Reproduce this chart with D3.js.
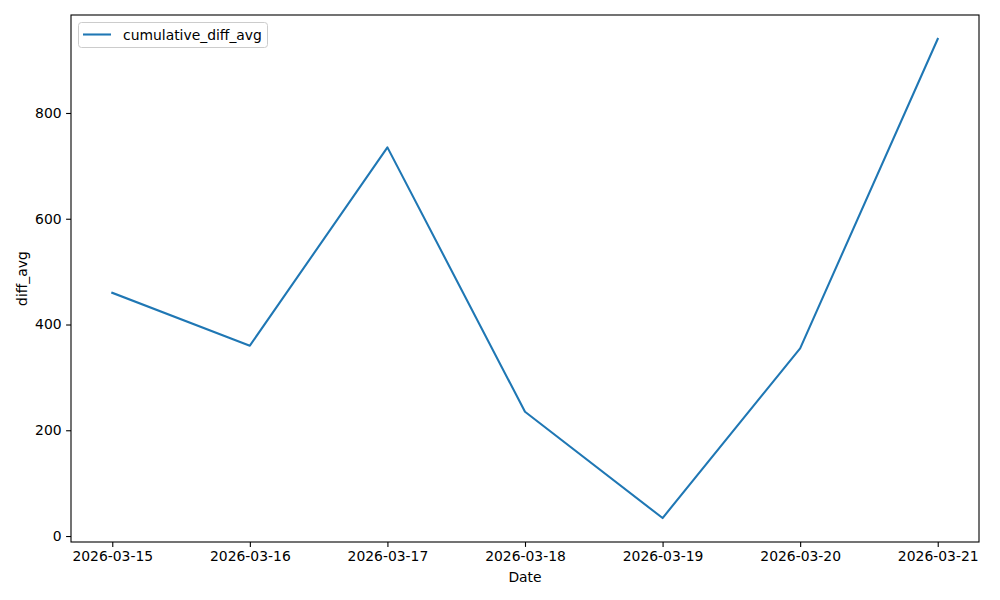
<!DOCTYPE html>
<html><head><meta charset="utf-8">
<script src="https://cdn.jsdelivr.net/npm/d3@7"></script>
<style>body{margin:0;background:#fff}svg{display:block}text{font-family:"DejaVu Sans",sans-serif}</style>
</head><body><svg id="c" width="1000" height="600"></svg>
<script>
const dates = ["2026-03-15","2026-03-16","2026-03-17","2026-03-18","2026-03-19","2026-03-20","2026-03-21"];
const values = [460, 360, 735, 235, 34, 355, 940];
const yTicks = [0, 200, 400, 600, 800];
const seriesName = "cumulative_diff_avg";

const svg = d3.select("#c");
const L = 71, R = 979, T = 15, B = 542;
const parse = d3.utcParse("%Y-%m-%d");
const xs = dates.map(parse);
const xMin = d3.min(xs), xMax = d3.max(xs);
const xPad = (xMax - xMin) * 0.05;
const x = d3.scaleUtc().domain([new Date(+xMin - xPad), new Date(+xMax + xPad)]).range([L, R]);
const yMin = d3.min(values), yMax = d3.max(values), yPad = (yMax - yMin) * 0.05;
const y = d3.scaleLinear().domain([yMin - yPad, yMax + yPad]).range([B, T]);

const fs = "13.9px";
const gx = svg.append("g").attr("transform", `translate(0,${B})`)
  .call(d3.axisBottom(x).tickValues(xs).tickFormat(d3.utcFormat("%Y-%m-%d")).tickSize(4.9).tickPadding(4.5));
const gy = svg.append("g").attr("transform", `translate(${L},0)`)
  .call(d3.axisLeft(y).tickValues(yTicks).tickFormat(d3.format("d")).tickSize(4.9).tickPadding(4.5));
[gx, gy].forEach(g => {
  g.select(".domain").remove();
  g.selectAll("line").attr("stroke", "#000").attr("stroke-width", 1.1);
  g.selectAll("text").attr("font-size", fs).attr("fill", "#000").attr("font-family", "DejaVu Sans");
});

svg.append("path").datum(values)
  .attr("d", d3.line().x((d, i) => x(xs[i])).y(d => y(d)))
  .attr("fill", "none").attr("stroke", "#1f77b4").attr("stroke-width", 2.08)
  .attr("stroke-linejoin", "round").attr("stroke-linecap", "square");

svg.append("rect").attr("x", L).attr("y", T).attr("width", R - L).attr("height", B - T)
  .attr("fill", "none").attr("stroke", "#000").attr("stroke-width", 1.1);

svg.append("text").attr("x", (L + R) / 2).attr("y", 582).attr("text-anchor", "middle")
  .attr("font-size", fs).text("Date");
svg.append("text").attr("transform", `translate(27,${(T + B) / 2}) rotate(-90)`).attr("text-anchor", "middle")
  .attr("font-size", fs).text("diff_avg");

const lg = svg.append("g");
lg.append("rect").attr("x", 78.5).attr("y", 22.5).attr("width", 189).attr("height", 25).attr("rx", 3)
  .attr("fill", "#fff").attr("fill-opacity", 0.8).attr("stroke", "#ccc").attr("stroke-width", 1);
lg.append("line").attr("x1", 83).attr("x2", 111).attr("y1", 34.5).attr("y2", 34.5)
  .attr("stroke", "#1f77b4").attr("stroke-width", 2.08);
lg.append("text").attr("x", 123).attr("y", 39.5).attr("font-size", fs).text(seriesName);
</script></body></html>
